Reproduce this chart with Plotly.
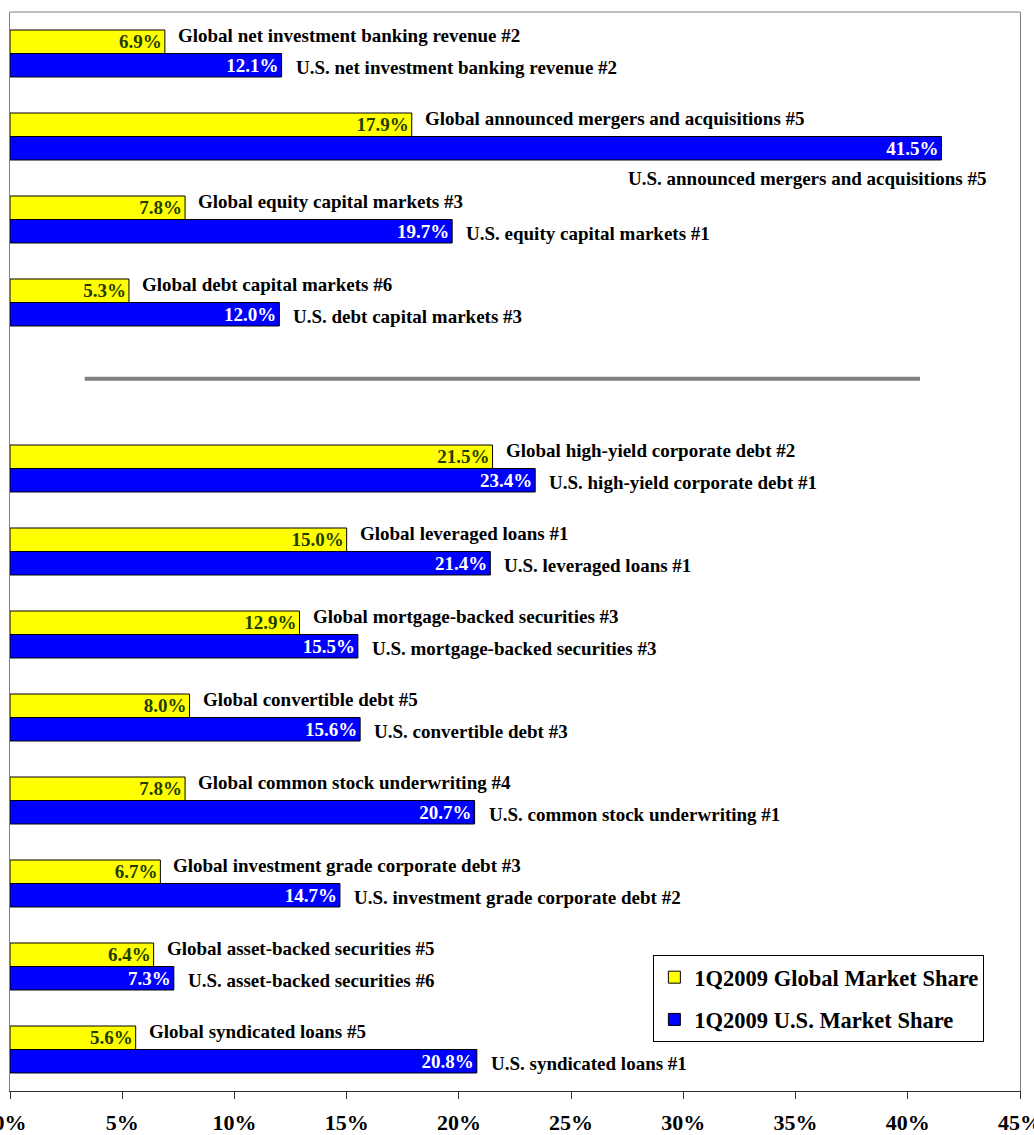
import plotly.graph_objects as go

# ---- data ----
categories = [
    "net investment banking revenue",
    "announced mergers and acquisitions",
    "equity capital markets",
    "debt capital markets",
    " ",
    "high-yield corporate debt",
    "leveraged loans",
    "mortgage-backed securities",
    "convertible debt",
    "common stock underwriting",
    "investment grade corporate debt",
    "asset-backed securities",
    "syndicated loans",
]
global_share = [6.9, 17.9, 7.8, 5.3, None, 21.5, 15.0, 12.9, 8.0, 7.8, 6.7, 6.4, 5.6]
us_share = [12.1, 41.5, 19.7, 12.0, None, 23.4, 21.4, 15.5, 15.6, 20.7, 14.7, 7.3, 20.8]
global_rank = [2, 5, 3, 6, None, 2, 1, 3, 5, 4, 3, 5, 5]
us_rank = [2, 5, 1, 3, None, 1, 1, 3, 3, 1, 2, 6, 1]
tick_values = [0, 5, 10, 15, 20, 25, 30, 35, 40, 45]
tick_labels = [f"{v}%" for v in tick_values]
series_names = ["1Q2009 Global Market Share", "1Q2009 U.S. Market Share"]

FONT = "Liberation Serif"

def fmt(v):
    return "" if v is None else f"{v:.1f}%"

fig = go.Figure()
fig.add_trace(go.Bar(
    y=categories, x=global_share, orientation="h", name=series_names[0],
    marker=dict(color="#FFFF00", line=dict(color="black", width=1)),
    text=[fmt(v) for v in global_share], textposition="inside",
    insidetextanchor="end", constraintext="none",
    textfont=dict(family=FONT, size=19, color="#1f3d00", weight="bold"),
    legendgroup="g", hoverinfo="skip",
))
fig.add_trace(go.Bar(
    y=categories, x=us_share, orientation="h", name=series_names[1],
    marker=dict(color="#0000FF", line=dict(color="black", width=1)),
    text=[fmt(v) for v in us_share], textposition="inside",
    insidetextanchor="end", constraintext="none",
    textfont=dict(family=FONT, size=19, color="white", weight="bold"),
    legendgroup="u", hoverinfo="skip",
))

annotations = []
for cat, gv, uv, gr, ur in zip(categories, global_share, us_share, global_rank, us_rank):
    if gv is None:
        continue
    annotations.append(dict(
        x=gv, y=cat, xref="x", yref="y", xanchor="left", yanchor="middle",
        xshift=11, yshift=18, showarrow=False,
        text=f"<b>Global {cat} #{gr}</b>",
        font=dict(family=FONT, size=19, color="black"),
    ))
    if uv > 35:
        annotations.append(dict(
            x=uv, y=cat, xref="x", yref="y", xanchor="right", yanchor="middle",
            xshift=47, yshift=-42, showarrow=False,
            text=f"<b>U.S. {cat} #{ur}</b>",
            font=dict(family=FONT, size=19, color="black"),
        ))
    else:
        annotations.append(dict(
            x=uv, y=cat, xref="x", yref="y", xanchor="left", yanchor="middle",
            xshift=12, yshift=-14, showarrow=False,
            text=f"<b>U.S. {cat} #{ur}</b>",
            font=dict(family=FONT, size=19, color="black"),
        ))

fig.update_layout(
    width=1034, height=1135,
    margin=dict(l=10, r=14, t=12, b=44, autoexpand=False),
    paper_bgcolor="white", plot_bgcolor="white",
    barmode="group", bargap=0.434, bargroupgap=0,
    font=dict(family=FONT, color="black"),
    showlegend=True,
    legend=dict(
        x=0.637, y=0.126, xanchor="left", yanchor="top",
        bgcolor="white", bordercolor="black", borderwidth=1,
        font=dict(family=FONT, size=22.5, color="black", weight="bold"),
        traceorder="grouped", tracegroupgap=10,
    ),
    annotations=annotations,
    shapes=[
        dict(type="line", xref="paper", yref="paper", x0=0.074, x1=0.901,
             y0=0.66, y1=0.66, line=dict(color="#808080", width=4)),
        dict(type="line", xref="paper", yref="paper", x0=0, x1=1,
             y0=1, y1=1, line=dict(color="#808080", width=1)),
    ],
)
fig.update_xaxes(
    range=[0, 45], tickvals=tick_values, ticktext=tick_labels, automargin=False,
    showgrid=False, zeroline=False, showline=True, linecolor="#333333", linewidth=1,
    ticks="outside", ticklen=7, tickcolor="#333333", ticklabelstandoff=5,
    ticklabeloverflow="allow",
    tickfont=dict(family=FONT, size=22, color="black", weight="bold"),
)
fig.update_yaxes(
    categoryorder="array", categoryarray=categories, autorange="reversed",
    showticklabels=False, showgrid=False, zeroline=False, automargin=False,
    showline=True, linecolor="#808080", linewidth=1, mirror=True, ticks="",
)

fig.write_html("out.html")
